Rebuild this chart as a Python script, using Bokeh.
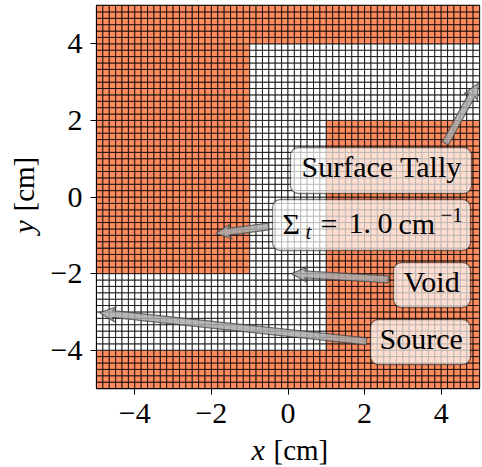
import math
from bokeh.plotting import figure
from bokeh.models import Label, FixedTicker
from bokeh.embed import file_html
from bokeh.resources import INLINE

# Mesh and material layout (cm)
x_min, x_max = -5.0, 5.0
y_min, y_max = -5.0, 5.0
n_cells = 60
void_regions = [(-5, 1, -4, -2), (-1, 1, -4, 4), (-1, 5, 2, 4)]
tick_values = [-4, -2, 0, 2, 4]
tick_labels = ["−4", "−2", "0", "2", "4"]
absorber_color = "#ff8c5f"
void_color = "#ffffff"

# Arrow annotations: tail and tip in cm
arrow_names = ["Surface Tally", "Sigma", "Void", "Source"]
arrow_tails = [(4.11, 1.40), (-0.51, -0.77), (2.62, -2.15), (2.05, -3.77)]
arrow_tips = [(4.97, 2.97), (-1.89, -0.95), (0.09, -2.0), (-4.92, -3.02)]

FL, FT, FS = 96.0, 5.0, 383.0
FONT = "Liberation Serif"
FS_TXT = 30
BASE_SHIFT = 0.367


def dx(px):
    return x_min + (px - FL) / FS * (x_max - x_min)


def dy(py):
    return y_max - (py - FT) / FS * (y_max - y_min)


p = figure(width=482, height=467, x_range=(x_min, x_max), y_range=(y_min, y_max),
           output_backend="svg", toolbar_location=None, tools="",
           min_border_left=96, min_border_right=3, min_border_top=5, min_border_bottom=79)
p.frame_width = 383
p.frame_height = 383
p.background_fill_color = "white"
p.border_fill_color = "white"
p.grid.visible = False
p.outline_line_color = "black"
p.outline_line_width = 1.3

for ax in (p.xaxis[0], p.yaxis[0]):
    ax.ticker = FixedTicker(ticks=tick_values)
    ax.major_label_overrides = dict(zip(tick_values, tick_labels))
    ax.major_label_text_font = FONT
    ax.major_label_text_font_size = "30px"
    ax.major_label_text_color = "black"
    ax.major_tick_out = 6
    ax.major_tick_in = 0
    ax.major_tick_line_width = 1
    ax.major_tick_line_color = "black"
    ax.minor_tick_line_color = None
    ax.axis_line_color = "black"
    ax.axis_line_width = 1
p.xaxis[0].major_label_standoff = 9
p.yaxis[0].major_label_standoff = 8

# Mesh cells
h = (x_max - x_min) / n_cells
lefts, rights, bottoms, tops, colors = [], [], [], [], []
for j in range(n_cells):
    for i in range(n_cells):
        l, b = x_min + i * h, y_min + j * h
        cx, cy = l + h / 2, b + h / 2
        is_void = any(a < cx < c and d < cy < e for a, c, d, e in void_regions)
        lefts.append(l); rights.append(l + h); bottoms.append(b); tops.append(b + h)
        colors.append(void_color if is_void else absorber_color)
p.quad(left=lefts, right=rights, bottom=bottoms, top=tops, fill_color=colors,
       line_color="black", line_width=0.8)


# Arrows
def arrow_poly(tail, tip):
    sw, hw, hl = 0.09, 0.20, 0.42   # half shaft, half head, head length (cm)
    vx, vy = tip[0] - tail[0], tip[1] - tail[1]
    L = math.hypot(vx, vy)
    ux, uy = vx / L, vy / L
    nx, ny = -uy, ux
    bx, by = tip[0] - ux * hl, tip[1] - uy * hl
    sx, sy = tip[0] - ux * hl * 0.8, tip[1] - uy * hl * 0.8
    xs = [tail[0] + nx * sw, sx + nx * sw, bx + nx * hw, tip[0], bx - nx * hw, sx - nx * sw, tail[0] - nx * sw]
    ys = [tail[1] + ny * sw, sy + ny * sw, by + ny * hw, tip[1], by - ny * hw, sy - ny * sw, tail[1] - ny * sw]
    return xs, ys


polys = [arrow_poly(t, q) for t, q in zip(arrow_tails, arrow_tips)]
p.patches([a[0] for a in polys], [a[1] for a in polys], fill_color="#aaaaaa", fill_alpha=0.85,
          line_color="#404040", line_alpha=0.7, line_width=1.2)

# Boxes (pixel extents: left, right, top, bottom)
boxes = [(290, 471, 147, 193), (272, 470, 199, 250), (393, 470, 262, 307), (370, 470, 319, 364)]
p.quad(left=[dx(b[0]) for b in boxes], right=[dx(b[1]) for b in boxes],
       top=[dy(b[2]) for b in boxes], bottom=[dy(b[3]) for b in boxes],
       fill_color="white", fill_alpha=0.7, line_color="black", line_alpha=0.5, line_width=1.3,
       border_radius=8)


def txt(s, px, py, size=FS_TXT, style="normal", align="left"):
    p.add_layout(Label(x=dx(px), y=dy(py - BASE_SHIFT * size), text=s, text_font=FONT,
                       text_font_size=f"{size}px", text_font_style=style,
                       text_baseline="alphabetic", text_align=align, text_color="black"))


def ctxt(s, px, py, size=FS_TXT, style="normal", angle=0.0):
    sx = px - BASE_SHIFT * size if angle else px
    sy = py if angle else py - BASE_SHIFT * size
    p.add_layout(Label(x=sx, y=sy, x_units="canvas", y_units="canvas", text=s, text_font=FONT,
                       text_font_size=f"{size}px", text_font_style=style, text_baseline="alphabetic",
                       text_align="left", angle=angle, text_color="black"), "below")


txt("Surface Tally", 301, 177)
txt("Void", 403, 292)
txt("Source", 379, 349)
txt("Σ", 282, 234)
txt("t", 305, 239, size=21, style="italic")
txt("=", 320, 234)
txt("1.", 348, 234)
txt("0", 377, 234)
txt("cm", 398, 234)
txt("−1", 440, 222, size=21)

# Axis labels
ctxt("x", 251, 460, style="italic")
ctxt("[cm]", 273, 460, size=29)
ctxt("y", 34, 233, style="italic", angle=math.pi / 2)
ctxt("[cm]", 34, 211, size=29, angle=math.pi / 2)

open("out.html", "w").write(file_html(p, INLINE))
